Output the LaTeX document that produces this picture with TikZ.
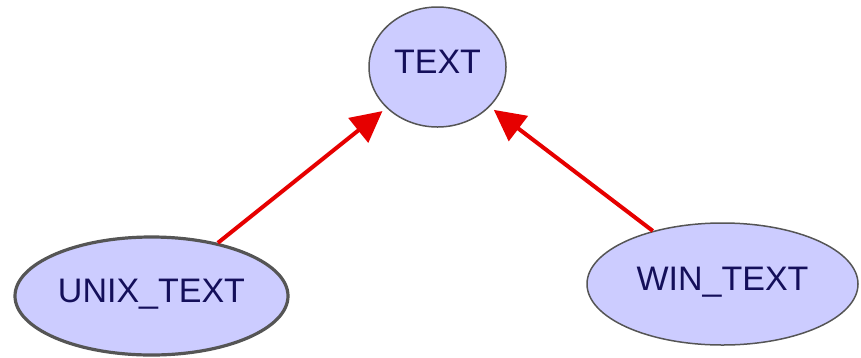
\documentclass[tikz,border=0pt]{standalone}
\usepackage{fontspec}
\setmainfont{Liberation Sans}
\usetikzlibrary{arrows.meta,shapes.geometric}
\definecolor{nodefill}{RGB}{204,204,255}
\definecolor{nodeline}{RGB}{85,85,85}
\definecolor{nodetext}{RGB}{20,15,90}
\definecolor{edgered}{RGB}{230,0,0}
\tikzset{
  gnode/.style={ellipse, draw=nodeline, fill=nodefill, line width=1.5pt, inner sep=0pt,
    text=nodetext, font=\fontsize{34pt}{34pt}\selectfont, text height=24.5pt, text depth=12pt},
  boldnode/.style={gnode, line width=3.2pt},
  edge/.style={draw=edgered, line width=4pt, -{Triangle[length=31pt,width=31pt]}, shorten >=5pt}
}
\begin{document}
\begin{tikzpicture}[x=1pt,y=-1pt]
\useasboundingbox (0,0) rectangle (861,357);
\node[gnode, minimum width=137pt, minimum height=120pt] (text) at (437.5,67) {TEXT};
\node[boldnode, minimum width=273pt, minimum height=118pt] (unix) at (151.5,296) {UNIX\_TEXT};
\node[gnode, minimum width=271pt, minimum height=122pt] (win) at (722.5,284) {WIN\_TEXT};
\draw[edge] (unix) -- (text);
\draw[edge] (win) -- (text);
\end{tikzpicture}
\end{document}
